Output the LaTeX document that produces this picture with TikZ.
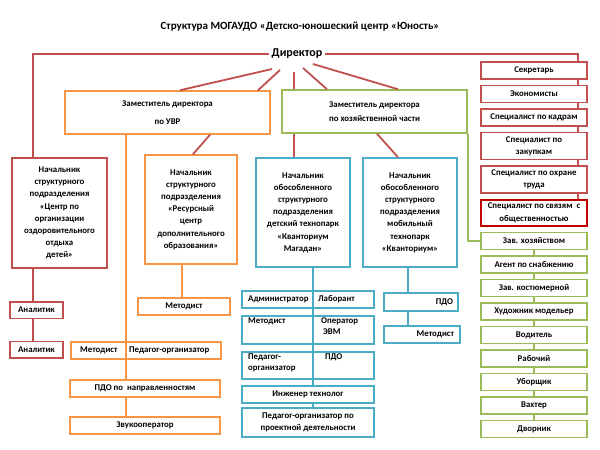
\documentclass[tikz,border=0pt]{standalone}
\usepackage{fontspec}
\setmainfont{Carlito}
\usetikzlibrary{positioning}
\definecolor{redc}{HTML}{C0504D}
\definecolor{darkred}{HTML}{C00000}
\definecolor{orangec}{HTML}{F79646}
\definecolor{greenc}{HTML}{9BBB59}
\definecolor{bluec}{HTML}{4BACC6}

\begin{document}
\begin{tikzpicture}[x=1pt, y=-1pt,
  cell/.style={draw, fill=white, line width=1.5pt, align=center, inner sep=1pt,
    font=\bfseries\fontsize{8.8}{12.2}\selectfont},
  rcell/.style={cell, draw=redc},
  ocell/.style={cell, draw=orangec},
  gcell/.style={cell, draw=greenc},
  bcell/.style={cell, draw=bluec},
  txt/.style={inner sep=0pt, align=left, font=\bfseries\fontsize{8.8}{11}\selectfont},
  rline/.style={draw=redc, line width=1.8pt},
  oline/.style={draw=orangec, line width=1.8pt},
  gline/.style={draw=greenc, line width=1.8pt},
  bline/.style={draw=bluec, line width=1.8pt},
  node distance=5pt]
  \useasboundingbox (0,0) rectangle (600,450);

  \node[font=\bfseries\fontsize{11}{13}\selectfont] (title) at (300,27)
    {Структура МОГАУДО «Детско-юношеский центр «Юность»};
  \node[font=\bfseries\fontsize{12}{14}\selectfont, inner sep=2pt] (dir) at (297,54) {Директор};

  % deputies
  \node[ocell, minimum width=205, minimum height=43] (uvr) at (167.5,112.5)
    {Заместитель директора\\[6pt]по УВР};
  \node[gcell, minimum width=185, minimum height=43] (hoz) at (374.5,111.5)
    {Заместитель директора\\[2pt]по хозяйственной части};

  % heads of units
  \node[rcell, minimum width=95, minimum height=110] (ozd) at (59.5,213)
    {Начальник\\структурного\\подразделения\\«Центр по\\организации\\оздоровительного\\отдыха\\детей»};
  \node[ocell, minimum width=92, minimum height=109] (res) at (191,209.5)
    {Начальник\\структурного\\подразделения\\«Ресурсный\\центр\\дополнительного\\образования»};
  \node[bcell, minimum width=94, minimum height=109] (kvm) at (303,212.5)
    {Начальник\\обособленного\\структурного\\подразделения\\детский технопарк\\«Кванториум\\Магадан»};
  \node[bcell, minimum width=94, minimum height=109] (kvb) at (410,212.5)
    {Начальник\\обособленного\\структурного\\подразделения\\мобильный\\технопарк\\«Кванториум»};

  % left staff
  \node[rcell, minimum width=53, minimum height=16.5] (an1) at (36.5,310) {Аналитик};
  \node[rcell, minimum width=53, minimum height=16.5] (an2) at (36.5,349.5) {Аналитик};
  \node[ocell, minimum width=92, minimum height=17] (met1) at (184,306.5) {Методист};
  \node[ocell, minimum width=150, minimum height=17] (mpo) at (146,350.5) {};
  \node[txt, anchor=west] (mpoa) at (80,350.5) {Методист};
  \node[txt, anchor=west] (mpob) at (129,350.5) {Педагог-организатор};
  \node[ocell, minimum width=150, minimum height=17] (pdo) at (145,388.5) {ПДО по\ \ направленностям};
  \node[ocell, minimum width=150, minimum height=17] (zvuk) at (145,425.5) {Звукооператор};

  % kvantorium staff
  \node[bcell, minimum width=132, minimum height=17] (adm) at (308,299.5) {};
  \node[txt, anchor=west] (adma) at (248,299.5) {Администратор};
  \node[txt, anchor=west] (admb) at (318,299.5) {Лаборант};
  \node[bcell, minimum width=132, minimum height=28] (meo) at (308,330) {};
  \node[txt, anchor=north west] (meoa) at (248,318) {Методист};
  \node[txt, anchor=north west] (meob) at (321,318) {Оператор\\\hspace*{2pt}ЭВМ};
  \node[bcell, minimum width=132, minimum height=27] (pgo) at (308,365.5) {};
  \node[txt, anchor=north west] (pgoa) at (248,354) {Педагог-\\организатор};
  \node[txt, anchor=north west] (pgob) at (325,354) {ПДО};
  \node[bcell, minimum width=132, minimum height=17] (ing) at (308,394.5) {Инженер технолог};
  \node[bcell, minimum width=132, minimum height=29] (ppd) at (308,422.5)
    {Педагог-организатор по\\проектной деятельности};
  \node[bcell, minimum width=74, minimum height=18, text width=64, align=right] (pdo2) at (421,302)
    {ПДО\hspace*{8pt}};
  \node[bcell, minimum width=76, minimum height=17, text width=64, align=right] (met2) at (422,334.5)
    {Методист};

  % right column
  \node[rcell, minimum width=106, minimum height=17] (sek) at (534,70.5) {Секретарь};
  \node[rcell, minimum width=106, minimum height=17, below=of sek] (eko) {Экономисты};
  \node[rcell, minimum width=106, minimum height=17, below=of eko] (kad) {Специалист по кадрам};
  \node[rcell, minimum width=106, minimum height=27, below=of kad] (zak) {Специалист по\\закупкам};
  \node[rcell, minimum width=106, minimum height=27, below=of zak] (okh) {Специалист по охране\\труда};
  \node[rcell, draw=darkred, line width=2pt, minimum width=106, minimum height=26, below=of okh] (svz)
    {Специалист по связям\ \ с\\общественностью};
  \node[gcell, minimum width=106, minimum height=17, below=of svz] (zh) {Зав. хозяйством};
  \node[gcell, minimum width=106, minimum height=17, below=of zh] (ag) {Агент по снабжению};
  \node[gcell, minimum width=106, minimum height=17, below=of ag] (kos) {Зав. костюмерной};
  \node[gcell, minimum width=106, minimum height=17, below=of kos] (hud) {Художник модельер};
  \node[gcell, minimum width=106, minimum height=17, below=of hud] (vod) {Водитель};
  \node[gcell, minimum width=106, minimum height=17, below=of vod] (rab) {Рабочий};
  \node[gcell, minimum width=106, minimum height=17, below=of rab] (ubo) {Уборщик};
  \node[gcell, minimum width=106, minimum height=17, below=of ubo] (vah) {Вахтер};
  \node[gcell, minimum width=106, minimum height=17, below=of vah] (dvo) {Дворник};

  % connectors
  \coordinate (lt) at (33,0);
  \coordinate (rt) at (578,0);
  \coordinate (ov) at (126,0);
  \coordinate (rv) at (182,0);
  \coordinate (bv) at (313,0);
  \coordinate (bw) at (408,0);
  \coordinate (d1) at (272,69);
  \coordinate (d2) at (280,70);
  \coordinate (d3) at (294,72);
  \coordinate (d4) at (303,68);
  \coordinate (d5) at (313,64);

  \draw[rline] (dir.west) -- (lt |- dir.west) -- (lt |- ozd.north);
  \draw[rline] (lt |- ozd.south) -- (lt |- an1.north);
  \draw[rline] (lt |- an1.south) -- (lt |- an2.north);
  \draw[rline] (dir.east) -- (rt |- dir.east) -- (rt |- sek.north);
  \foreach \a/\b in {sek/eko, eko/kad, kad/zak, zak/okh, okh/svz}
    \draw[rline] (rt |- \a.south) -- (rt |- \b.north);

  \draw[rline] (d1) -- ([xshift=12.5pt]uvr.north);
  \draw[rline] (d2) -- ([xshift=90.5pt]uvr.north);
  \draw[rline] (d3) -- (d3 |- hoz.north);
  \draw[rline] (d3 |- hoz.south) -- (d3 |- kvm.north);
  \draw[rline] (d4) -- ([xshift=-47.5pt]hoz.north);
  \draw[rline] (d5) -- ([xshift=23.5pt]hoz.north);
  \draw[rline] ([xshift=42.5pt]uvr.south) -- ([xshift=2pt]res.north);
  \draw[rline] ([xshift=2.5pt]hoz.south) -- ([xshift=-12pt]kvb.north);

  \draw[oline] (ov |- uvr.south) -- (ov |- pdo.north);
  \draw[oline] (ov |- pdo.south) -- (ov |- zvuk.north);
  \draw[oline] (rv |- res.south) -- (rv |- met1.north);

  \draw[bline] (bv |- kvm.south) -- (bv |- ing.north);
  \draw[bline] (bv |- ing.south) -- (bv |- ppd.north);
  \draw[bline] (bw |- kvb.south) -- (bw |- pdo2.north);
  \draw[bline] (bw |- pdo2.south) -- (bw |- met2.north);

  \draw[gline] (hoz.south east) |- (zh.west);
  \foreach \a/\b in {zh/ag, ag/kos, kos/hud, hud/vod, vod/rab, rab/ubo, ubo/vah, vah/dvo}
    \draw[gline] (\a.south) -- (\b.north);
\end{tikzpicture}
\end{document}
